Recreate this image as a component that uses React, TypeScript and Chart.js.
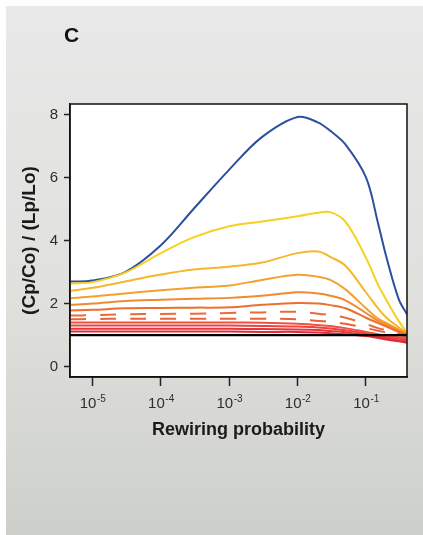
import { useEffect, useRef } from 'react';
import { Chart, registerables } from 'chart.js';

Chart.register(...registerables);

// Rewiring probability (x) sample positions
const PROBABILITY = [4.7e-6, 1e-5, 3e-5, 1e-4, 3e-4, 1e-3, 3e-3, 1e-2, 2e-2, 3e-2, 5e-2, 0.1, 0.15, 0.2, 0.3, 0.4];

// (Cp/Co)/(Lp/Lo) series, top to bottom
const SERIES_BLUE = [2.7, 2.73, 3.0, 3.85, 5.0, 6.25, 7.28, 7.92, 7.74, 7.48, 7.05, 6.0, 4.55, 3.45, 2.15, 1.65];
const SERIES_YELLOW = [2.63, 2.68, 2.98, 3.6, 4.1, 4.45, 4.6, 4.77, 4.88, 4.9, 4.6, 3.45, 2.6, 2.1, 1.45, 1.08];
const SERIES_AMBER = [2.4, 2.5, 2.7, 2.92, 3.08, 3.17, 3.3, 3.6, 3.65, 3.48, 3.2, 2.35, 1.85, 1.55, 1.25, 1.08];
const SERIES_ORANGE_1 = [2.17, 2.22, 2.32, 2.42, 2.5, 2.57, 2.75, 2.91, 2.85, 2.75, 2.45, 1.85, 1.52, 1.38, 1.18, 1.05];
const SERIES_ORANGE_2 = [1.96, 2.0, 2.08, 2.12, 2.15, 2.18, 2.25, 2.36, 2.32, 2.25, 2.1, 1.7, 1.45, 1.32, 1.15, 1.03];
const SERIES_ORANGE_3 = [1.78, 1.8, 1.85, 1.86, 1.87, 1.88, 1.96, 2.02, 2.0, 1.95, 1.85, 1.55, 1.38, 1.27, 1.1, 1.0];
const SERIES_DASH_1 = [1.62, 1.63, 1.66, 1.67, 1.68, 1.7, 1.72, 1.74, 1.68, 1.63, 1.55, 1.35, 1.22, 1.15, 1.05, 0.98];
const SERIES_DASH_2 = [1.5, 1.51, 1.52, 1.52, 1.52, 1.52, 1.52, 1.5, 1.45, 1.42, 1.36, 1.22, 1.14, 1.08, 1.0, 0.95];
const SERIES_RED_1 = [1.4, 1.4, 1.4, 1.4, 1.4, 1.4, 1.39, 1.36, 1.32, 1.29, 1.22, 1.1, 1.03, 0.98, 0.93, 0.9];
const SERIES_RED_2 = [1.3, 1.3, 1.3, 1.3, 1.3, 1.3, 1.29, 1.27, 1.24, 1.21, 1.15, 1.05, 0.98, 0.93, 0.88, 0.85];
const SERIES_RED_3 = [1.2, 1.2, 1.2, 1.2, 1.2, 1.2, 1.19, 1.18, 1.16, 1.13, 1.09, 1.0, 0.94, 0.89, 0.83, 0.8];
const SERIES_RED_4 = [1.11, 1.11, 1.11, 1.11, 1.11, 1.11, 1.1, 1.1, 1.08, 1.06, 1.03, 0.97, 0.91, 0.86, 0.8, 0.76];
const BASELINE = 1;

const X_MIN = 4.68e-6;
const X_MAX = 0.398;
const Y_MIN = -0.33;
const Y_MAX = 8.33;

const X_TICKS = [1e-5, 1e-4, 1e-3, 1e-2, 1e-1];
const X_TICK_BASE = '10';
const X_TICK_EXPONENTS = ['-5', '-4', '-3', '-2', '-1'];
const Y_TICKS = [0, 2, 4, 6, 8];

const FONT = "'Liberation Sans', Arial, Helvetica, sans-serif";

function pts(values: number[]) {
  return PROBABILITY.map((x, i) => ({ x, y: values[i] }));
}

const backgroundPlugin = {
  id: 'panelBackground',
  beforeDraw(chart: any) {
    const { ctx, width, height, chartArea } = chart;
    ctx.save();
    ctx.fillStyle = '#ffffff';
    ctx.fillRect(0, 0, width, height);
    const g = ctx.createLinearGradient(0, 6, 0, height);
    g.addColorStop(0, '#e8e9e8');
    g.addColorStop(0.55, '#e0e0dd');
    g.addColorStop(1, '#cdd0ca');
    ctx.fillStyle = g;
    ctx.fillRect(6, 6, width - 6, height - 6);
    ctx.fillStyle = '#ffffff';
    ctx.fillRect(chartArea.left, chartArea.top, chartArea.right - chartArea.left, chartArea.bottom - chartArea.top);
    ctx.restore();
  },
  afterDraw(chart: any) {
    const { ctx, chartArea } = chart;
    ctx.save();
    ctx.strokeStyle = '#111111';
    ctx.lineWidth = 1.5;
    ctx.strokeRect(chartArea.left, chartArea.top, chartArea.right - chartArea.left, chartArea.bottom - chartArea.top);
    ctx.fillStyle = '#111111';
    ctx.font = `bold 21px ${FONT}`;
    ctx.textBaseline = 'alphabetic';
    ctx.textAlign = 'left';
    ctx.fillText('C', 64, 42);

    // x tick labels with superscript exponents
    const xs = chart.scales.x;
    ctx.fillStyle = '#2e2e2e';
    X_TICKS.forEach((v, i) => {
      const px = xs.getPixelForValue(v);
      ctx.font = `15px ${FONT}`;
      const w1 = ctx.measureText(X_TICK_BASE).width;
      ctx.font = `10px ${FONT}`;
      const w2 = ctx.measureText(X_TICK_EXPONENTS[i]).width;
      const start = px - (w1 + w2) / 2;
      ctx.font = `15px ${FONT}`;
      ctx.fillText(X_TICK_BASE, start, 408);
      ctx.font = `10px ${FONT}`;
      ctx.fillText(X_TICK_EXPONENTS[i], start + w1 + 0.5, 402);
    });
    ctx.restore();
  },
};

export default function App() {
  const canvasRef = useRef<HTMLCanvasElement | null>(null);

  useEffect(() => {
    const canvas = canvasRef.current;
    if (!canvas) return;
    const line = (values: number[], color: string, dash: number[] = []) => ({
      data: pts(values),
      borderColor: color,
      backgroundColor: color,
      borderWidth: 2,
      borderDash: dash,
      pointRadius: 0,
      fill: false,
      tension: 0.35,
    });
    const chart = new Chart(canvas, {
      type: 'line',
      data: {
        datasets: [
          {
            data: [
              { x: X_MIN, y: BASELINE },
              { x: X_MAX, y: BASELINE },
            ],
            borderColor: '#000000',
            borderWidth: 2.2,
            pointRadius: 0,
            fill: false,
          },
          line(SERIES_RED_4, '#e42a36'),
          line(SERIES_RED_3, '#e8343d'),
          line(SERIES_RED_2, '#ec4242'),
          line(SERIES_RED_1, '#ef5340'),
          line(SERIES_DASH_2, '#e8623b', [16, 14]),
          line(SERIES_DASH_1, '#e96b3b', [16, 14]),
          line(SERIES_ORANGE_3, '#ec702d'),
          line(SERIES_ORANGE_2, '#f08a2f'),
          line(SERIES_ORANGE_1, '#f3a12e'),
          line(SERIES_AMBER, '#f6b72a'),
          line(SERIES_YELLOW, '#f8d01f'),
          line(SERIES_BLUE, '#2c4f9e'),
        ],
      },
      options: {
        responsive: false,
        animation: false,
        parsing: true,
        layout: { padding: { left: 0, top: 104, right: 16, bottom: 88 } },
        plugins: {
          legend: { display: false },
          tooltip: { enabled: false },
          title: { display: false },
        },
        scales: {
          x: {
            type: 'logarithmic',
            min: X_MIN,
            max: X_MAX,
            afterBuildTicks: (s: any) => {
              s.ticks = X_TICKS.map((v) => ({ value: v }));
            },
            afterFit: (s: any) => {
              s.height = 70;
            },
            ticks: {
              display: false,
              autoSkip: false,
              maxRotation: 0,
            },
            grid: {
              drawOnChartArea: false,
              drawTicks: true,
              tickLength: 9,
              tickColor: '#222222',
              tickWidth: 1.5,
            },
            border: { display: true, color: '#111111', width: 1.5 },
            title: {
              display: true,
              text: 'Rewiring probability',
              color: '#1a1a1a',
              font: { family: FONT, size: 18, weight: 'bold' },
              padding: { top: 0, bottom: 6 },
            },
          },
          y: {
            type: 'linear',
            min: Y_MIN,
            max: Y_MAX,
            afterBuildTicks: (s: any) => {
              s.ticks = Y_TICKS.map((v) => ({ value: v }));
            },
            afterFit: (s: any) => {
              s.width = 70;
            },
            ticks: {
              padding: 6,
              color: '#2e2e2e',
              font: { family: FONT, size: 15 },
              callback: (v: any) => String(v),
            },
            grid: {
              drawOnChartArea: false,
              drawTicks: true,
              tickLength: 6,
              tickColor: '#222222',
              tickWidth: 1.5,
            },
            border: { display: true, color: '#111111', width: 1.5 },
            title: {
              display: true,
              text: '(Cp/Co) / (Lp/Lo)',
              color: '#1a1a1a',
              font: { family: FONT, size: 19, weight: 'bold' },
              padding: { top: 18.6, bottom: 0 },
            },
          },
        },
      },
      plugins: [backgroundPlugin],
    } as any);
    return () => chart.destroy();
  }, []);

  return (
    <div style={{ position: 'fixed', left: 0, top: 0, width: 423, height: 535 }}>
      <canvas ref={canvasRef} width={423} height={535} style={{ display: 'block', width: 423, height: 535 }} />
    </div>
  );
}
